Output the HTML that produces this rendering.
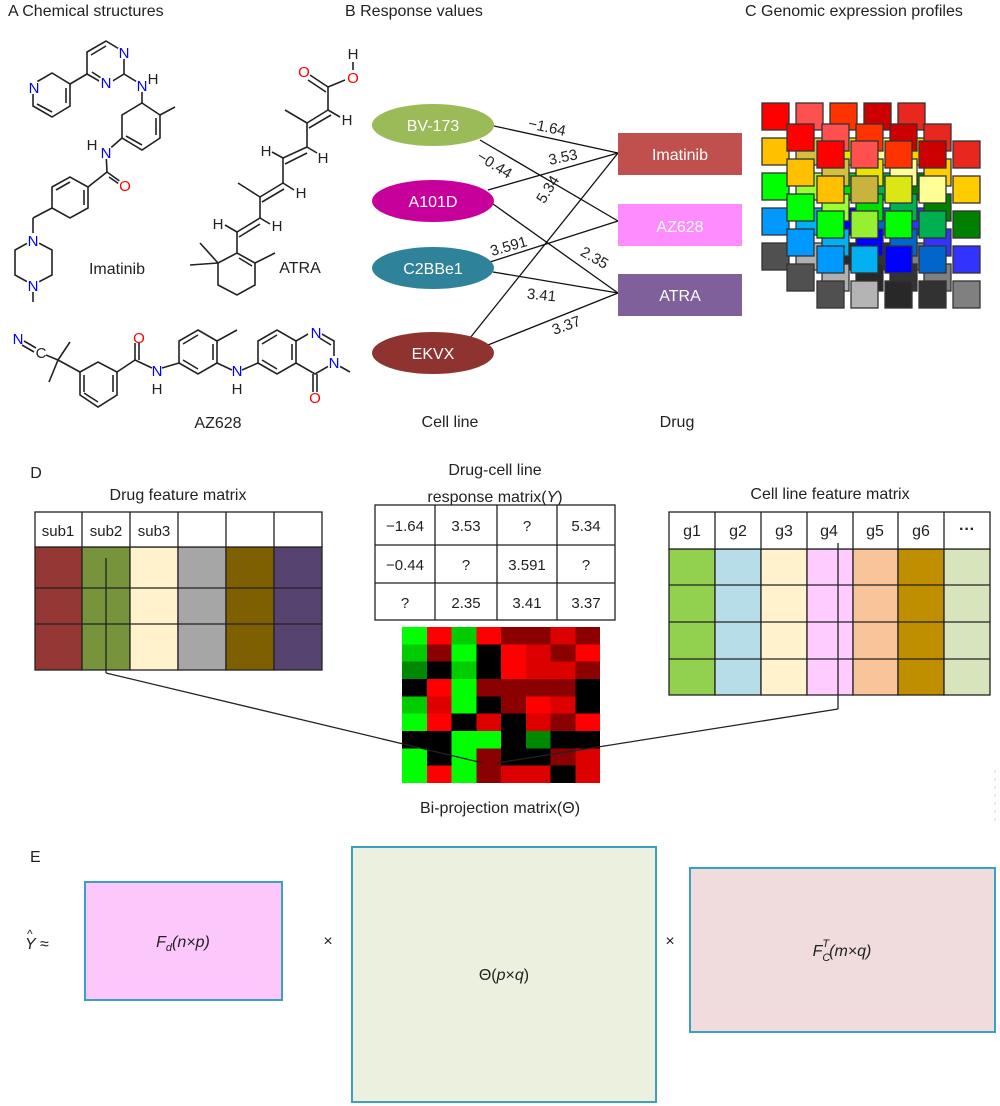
<!DOCTYPE html>
<html><head><meta charset="utf-8"><style>
html,body{margin:0;padding:0;background:#fff}
svg{display:block}
text{font-family:"Liberation Sans",sans-serif}
</style></head><body>
<svg width="1000" height="1106" viewBox="0 0 1000 1106" xmlns="http://www.w3.org/2000/svg">
<g font-size="16" fill="#222">
<text x="8" y="16">A  Chemical structures</text>
<text x="345" y="16">B  Response values</text>
<text x="745" y="16">C  Genomic expression profiles</text>
</g>

<!-- Imatinib -->
<g stroke="#222" stroke-width="1.6" fill="none">
<polygon points="87,52 106,41 124,52 124,74 106,85 87,74"/>
<line x1="91" y1="55" x2="106" y2="46"/><line x1="92" y1="72" x2="104" y2="80"/>
<polygon points="52,73 70,84 70,106 52,117 33,106 33,84"/>
<line x1="66" y1="88" x2="66" y2="103"/><line x1="37" y1="104" x2="52" y2="112"/>
<line x1="70" y1="84" x2="87" y2="74"/>
<line x1="124" y1="74" x2="142" y2="85"/>
<line x1="142" y1="85" x2="142" y2="103"/>
<polygon points="142,103 160,115 160,138 142,150 122,138 122,115"/>
<line x1="156" y1="118" x2="156" y2="135"/><line x1="126" y1="136" x2="142" y2="145"/>
<line x1="160" y1="115" x2="175" y2="107"/>
<line x1="122" y1="138" x2="106" y2="152"/>
<line x1="106" y1="152" x2="107" y2="172"/>
<line x1="107" y1="172" x2="125" y2="185"/><line x1="109" y1="177" x2="122" y2="186"/>
<line x1="107" y1="172" x2="88" y2="187"/>
<polygon points="52,187 70,177 88,187 88,208 70,218 52,208"/>
<line x1="56" y1="190" x2="70" y2="182"/><line x1="84" y1="190" x2="84" y2="205"/>
<line x1="52" y1="208" x2="33" y2="218"/><line x1="33" y1="218" x2="33" y2="240"/>
<polygon points="33,240 52,250 52,275 33,285 15,275 15,250"/>
<line x1="33" y1="285" x2="33" y2="302"/>
</g>
<g font-size="15" text-anchor="middle">
<g fill="#fff"><circle cx="124" cy="52" r="7"/><circle cx="106" cy="82" r="7"/><circle cx="33" cy="87" r="7"/><circle cx="142" cy="85" r="7"/><circle cx="106" cy="152" r="7"/><circle cx="125" cy="185" r="7"/><circle cx="33" cy="240" r="7"/><circle cx="33" cy="285" r="7"/></g>
<g fill="#00f"><text x="124" y="58">N</text><text x="106" y="88">N</text><text x="34" y="93">N</text><text x="142" y="91">N</text><text x="106" y="158">N</text><text x="33" y="246">N</text><text x="33" y="291">N</text></g>
<text x="125" y="191" fill="#f00">O</text>
<g fill="#222"><text x="153" y="84">H</text><text x="92" y="150">H</text></g>
<text x="117" y="274" font-size="16" fill="#222">Imatinib</text>
</g>

<!-- ATRA -->
<g stroke="#222" stroke-width="1.6" fill="none">
<polygon points="237,253 255,263 255,285 237,295 218,285 218,263"/>
<line x1="239" y1="258" x2="252" y2="266"/>
<line x1="218" y1="263" x2="190" y2="265"/><line x1="218" y1="263" x2="200" y2="243"/>
<line x1="255" y1="263" x2="275" y2="253"/>
<line x1="237" y1="253" x2="237" y2="232"/>
<line x1="237" y1="232" x2="260" y2="218"/><line x1="239" y1="237" x2="260" y2="224"/>
<line x1="260" y1="218" x2="260" y2="197"/><line x1="260" y1="197" x2="238" y2="183"/>
<line x1="260" y1="197" x2="283" y2="183"/><line x1="262" y1="202" x2="284" y2="189"/>
<line x1="283" y1="183" x2="283" y2="158"/>
<line x1="283" y1="158" x2="307" y2="147"/><line x1="285" y1="164" x2="307" y2="153"/>
<line x1="307" y1="147" x2="307" y2="123"/><line x1="307" y1="123" x2="285" y2="110"/>
<line x1="307" y1="123" x2="328" y2="110"/><line x1="309" y1="128" x2="331" y2="115"/>
<line x1="328" y1="110" x2="328" y2="87"/>
<line x1="328" y1="87" x2="310" y2="75"/><line x1="326" y1="92" x2="308" y2="80"/>
<line x1="328" y1="87" x2="345" y2="80"/>
<line x1="353" y1="70" x2="353" y2="62"/>
<line x1="237" y1="232" x2="225" y2="225"/><line x1="260" y1="218" x2="270" y2="224"/>
<line x1="283" y1="183" x2="294" y2="190"/><line x1="283" y1="158" x2="272" y2="152"/>
<line x1="307" y1="147" x2="317" y2="153"/><line x1="328" y1="110" x2="340" y2="117"/>
</g>
<g font-size="15" text-anchor="middle" fill="#222">
<text x="218" y="229">H</text><text x="277" y="231">H</text><text x="301" y="198">H</text><text x="266" y="156">H</text><text x="323" y="163">H</text><text x="347" y="125">H</text>
<text x="304" y="77" fill="#f00">O</text><text x="353" y="83" fill="#f00">O</text><text x="353" y="59">H</text>
<text x="300" y="273" font-size="16">ATRA</text>
</g>

<!-- AZ628 -->
<g stroke="#222" stroke-width="1.6" fill="none">
<line x1="24" y1="341" x2="36" y2="348"/><line x1="22" y1="345" x2="34" y2="352"/>
<line x1="46" y1="355" x2="58" y2="360"/>
<line x1="58" y1="360" x2="70" y2="342"/><line x1="58" y1="360" x2="49" y2="382"/>
<line x1="58" y1="360" x2="80" y2="372"/>
<polygon points="80,372 98,362 117,372 117,395 98,407 80,395"/>
<line x1="84" y1="393" x2="98" y2="402"/><line x1="113" y1="375" x2="113" y2="392"/><line x1="84" y1="375" x2="84" y2="392"/>
<line x1="117" y1="372" x2="135" y2="360"/>
<line x1="135" y1="360" x2="135" y2="343"/><line x1="139" y1="360" x2="139" y2="343"/>
<line x1="135" y1="360" x2="152" y2="368"/>
<line x1="162" y1="368" x2="179" y2="363"/>
<polygon points="198,330 217,341 217,363 198,374 179,363 179,341"/>
<line x1="183" y1="344" x2="198" y2="335"/><line x1="213" y1="344" x2="213" y2="360"/><line x1="183" y1="360" x2="198" y2="369"/>
<line x1="217" y1="341" x2="237" y2="330"/>
<line x1="217" y1="363" x2="232" y2="370"/>
<line x1="242" y1="370" x2="258" y2="363"/>
<polygon points="258,341 277,330 296,341 296,363 277,374 258,363"/>
<line x1="262" y1="344" x2="277" y2="335"/><line x1="262" y1="360" x2="277" y2="369"/><line x1="292" y1="344" x2="292" y2="360"/>
<polyline points="296,341 315,330 334,341 334,363 315,374 296,363"/>
<line x1="318" y1="337" x2="331" y2="345"/>
<line x1="313" y1="374" x2="313" y2="392"/><line x1="317" y1="374" x2="317" y2="392"/>
<line x1="334" y1="363" x2="350" y2="372"/>
</g>
<g font-size="15" text-anchor="middle">
<g fill="#fff"><circle cx="315" cy="333" r="7"/><circle cx="334" cy="363" r="7"/></g>
<g fill="#00f"><text x="18" y="344">N</text><text x="157" y="376">N</text><text x="237" y="376">N</text><text x="316" y="338">N</text><text x="334" y="368">N</text></g>
<text x="41" y="358" fill="#222">C</text>
<g fill="#f00"><text x="139" y="343">O</text><text x="315" y="403">O</text></g>
<g fill="#222"><text x="157" y="394">H</text><text x="237" y="394">H</text></g>
<text x="218" y="428" font-size="16" fill="#222">AZ628</text>
</g>

<!-- Panel B -->
<g stroke="#111" stroke-width="1.3">
<line x1="494" y1="126" x2="618" y2="153"/>
<line x1="480" y1="140" x2="618" y2="221"/>
<line x1="488" y1="190" x2="618" y2="153"/>
<line x1="493" y1="204" x2="618" y2="293"/>
<line x1="490" y1="262" x2="618" y2="221"/>
<line x1="493" y1="272" x2="618" y2="293"/>
<line x1="470" y1="338" x2="618" y2="153"/>
<line x1="488" y1="345" x2="618" y2="293"/>
</g>
<g font-size="16" text-anchor="middle" fill="#fff">
<ellipse cx="433" cy="125" rx="61" ry="21" fill="#9bbb59"/><text x="433" y="131">BV-173</text>
<ellipse cx="433" cy="201" rx="61" ry="21" fill="#c8009b"/><text x="433" y="207">A101D</text>
<ellipse cx="433" cy="268" rx="61" ry="21" fill="#2e8299"/><text x="433" y="274">C2BBe1</text>
<ellipse cx="433" cy="353" rx="61" ry="21" fill="#8e3330"/><text x="433" y="359">EKVX</text>
<rect x="618" y="133" width="124" height="42" fill="#c0504d"/><text x="680" y="160">Imatinib</text>
<rect x="618" y="204" width="124" height="42" fill="#ff8cff"/><text x="680" y="232">AZ628</text>
<rect x="618" y="274" width="124" height="42" fill="#7f609b"/><text x="680" y="301">ATRA</text>
</g>
<g font-size="15" text-anchor="middle" fill="#222">
<text transform="translate(546,132) rotate(12)">−1.64</text>
<text transform="translate(564,162) rotate(-12)">3.53</text>
<text transform="translate(492,169) rotate(32)">−0.44</text>
<text transform="translate(552,192) rotate(-58)">5.34</text>
<text transform="translate(510,251) rotate(-16)">3.591</text>
<text transform="translate(592,262) rotate(30)">2.35</text>
<text transform="translate(541,300) rotate(6)">3.41</text>
<text transform="translate(568,330) rotate(-20)">3.37</text>
<text x="450" y="427" font-size="16">Cell line</text>
<text x="677" y="427" font-size="16">Drug</text>
</g>

<!-- Panel C -->
<g stroke="#333" stroke-width="1.3">
<g transform="translate(762,103)">
<rect x="0" y="0" width="27" height="27" fill="#f00"/><rect x="34" y="0" width="27" height="27" fill="#ff5050"/><rect x="68" y="0" width="27" height="27" fill="#ff3300"/><rect x="102" y="0" width="27" height="27" fill="#c00"/><rect x="136" y="0" width="27" height="27" fill="#e8281e"/>
<rect x="0" y="35" width="27" height="27" fill="#ffc000"/><rect x="34" y="35" width="27" height="27" fill="#d4c040"/><rect x="68" y="35" width="27" height="27" fill="#e6e600"/><rect x="102" y="35" width="27" height="27" fill="#ffff99"/><rect x="136" y="35" width="27" height="27" fill="#fc0"/>
<rect x="0" y="70" width="27" height="27" fill="#0f0"/><rect x="34" y="70" width="27" height="27" fill="#9f3"/><rect x="68" y="70" width="27" height="27" fill="#0d0"/><rect x="102" y="70" width="27" height="27" fill="#00b050"/><rect x="136" y="70" width="27" height="27" fill="#008000"/>
<rect x="0" y="105" width="27" height="27" fill="#09f"/><rect x="34" y="105" width="27" height="27" fill="#00b0f0"/><rect x="68" y="105" width="27" height="27" fill="#00f"/><rect x="102" y="105" width="27" height="27" fill="#06c"/><rect x="136" y="105" width="27" height="27" fill="#33f"/>
<rect x="0" y="140" width="27" height="27" fill="#505050"/><rect x="34" y="140" width="27" height="27" fill="#b0b0b0"/><rect x="68" y="140" width="27" height="27" fill="#282828"/><rect x="102" y="140" width="27" height="27" fill="#333"/><rect x="136" y="140" width="27" height="27" fill="#808080"/>
</g>
<g transform="translate(787,124)">
<rect x="0" y="0" width="27" height="27" fill="#f00"/><rect x="35" y="0" width="27" height="27" fill="#ff5050"/><rect x="69" y="0" width="27" height="27" fill="#ff3300"/><rect x="103" y="0" width="27" height="27" fill="#c00"/><rect x="137" y="0" width="27" height="27" fill="#e8281e"/>
<rect x="0" y="35" width="27" height="27" fill="#ffc000"/><rect x="35" y="35" width="27" height="27" fill="#d4c040"/><rect x="69" y="35" width="27" height="27" fill="#e6e600"/><rect x="103" y="35" width="27" height="27" fill="#ffff99"/><rect x="137" y="35" width="27" height="27" fill="#fc0"/>
<rect x="0" y="70" width="27" height="27" fill="#0f0"/><rect x="35" y="70" width="27" height="27" fill="#9f3"/><rect x="69" y="70" width="27" height="27" fill="#0d0"/><rect x="103" y="70" width="27" height="27" fill="#00b050"/><rect x="137" y="70" width="27" height="27" fill="#008000"/>
<rect x="0" y="105" width="27" height="27" fill="#09f"/><rect x="35" y="105" width="27" height="27" fill="#00b0f0"/><rect x="69" y="105" width="27" height="27" fill="#00f"/><rect x="103" y="105" width="27" height="27" fill="#06c"/><rect x="137" y="105" width="27" height="27" fill="#33f"/>
<rect x="0" y="140" width="27" height="27" fill="#505050"/><rect x="35" y="140" width="27" height="27" fill="#b0b0b0"/><rect x="69" y="140" width="27" height="27" fill="#282828"/><rect x="103" y="140" width="27" height="27" fill="#333"/><rect x="137" y="140" width="27" height="27" fill="#808080"/>
</g>
<g transform="translate(817,141)">
<rect x="0" y="0" width="27" height="27" fill="#f00"/><rect x="34" y="0" width="27" height="27" fill="#ff5050"/><rect x="68" y="0" width="27" height="27" fill="#ff3300"/><rect x="102" y="0" width="27" height="27" fill="#c00"/><rect x="136" y="0" width="27" height="27" fill="#e8281e"/>
<rect x="0" y="35" width="27" height="27" fill="#ffc000"/><rect x="34" y="35" width="27" height="27" fill="#c8b43c"/><rect x="68" y="35" width="27" height="27" fill="#dce614"/><rect x="102" y="35" width="27" height="27" fill="#ffff96"/><rect x="136" y="35" width="27" height="27" fill="#fc0"/>
<rect x="0" y="70" width="27" height="27" fill="#0f0"/><rect x="34" y="70" width="27" height="27" fill="#96f032"/><rect x="68" y="70" width="27" height="27" fill="#0f0"/><rect x="102" y="70" width="27" height="27" fill="#00b050"/><rect x="136" y="70" width="27" height="27" fill="#008000"/>
<rect x="0" y="105" width="27" height="27" fill="#09f"/><rect x="34" y="105" width="27" height="27" fill="#00b0f0"/><rect x="68" y="105" width="27" height="27" fill="#00f"/><rect x="102" y="105" width="27" height="27" fill="#06c"/><rect x="136" y="105" width="27" height="27" fill="#33f"/>
<rect x="0" y="140" width="27" height="27" fill="#505050"/><rect x="34" y="140" width="27" height="27" fill="#b4b4b4"/><rect x="68" y="140" width="27" height="27" fill="#282828"/><rect x="102" y="140" width="27" height="27" fill="#323232"/><rect x="136" y="140" width="27" height="27" fill="#808080"/>
</g>
</g>

<!-- Panel D -->
<g font-size="16" fill="#222" text-anchor="middle">
<text x="36" y="478">D</text>
<text x="178" y="500">Drug feature matrix</text>
<text x="495" y="475">Drug-cell line</text>
<text x="495" y="502">response matrix(<tspan font-style="italic">Y</tspan>)</text>
<text x="830" y="499">Cell line feature matrix</text>
<text x="500" y="813">Bi-projection matrix(Θ)</text>
</g>
<g stroke="#222" stroke-width="1.3">
<rect x="35" y="547" width="47" height="123" fill="#953735"/>
<rect x="82" y="547" width="48" height="123" fill="#77933c"/>
<rect x="130" y="547" width="48" height="123" fill="#fff2cc"/>
<rect x="178" y="547" width="48" height="123" fill="#a6a6a6"/>
<rect x="226" y="547" width="48" height="123" fill="#7f6000"/>
<rect x="274" y="547" width="48" height="123" fill="#574370"/>
<rect x="35" y="512" width="287" height="35" fill="#fff"/>
<line x1="82" y1="512" x2="82" y2="547"/><line x1="130" y1="512" x2="130" y2="547"/><line x1="178" y1="512" x2="178" y2="547"/><line x1="226" y1="512" x2="226" y2="547"/><line x1="274" y1="512" x2="274" y2="547"/>
<line x1="35" y1="588" x2="322" y2="588"/><line x1="35" y1="624" x2="322" y2="624"/>
<line x1="106" y1="558" x2="106" y2="673"/>
</g>
<g font-size="15" fill="#222" text-anchor="middle"><text x="58" y="536">sub1</text><text x="106" y="536">sub2</text><text x="154" y="536">sub3</text></g>
<g stroke="#222" stroke-width="1.3" fill="none">
<rect x="375" y="505" width="240" height="115" fill="#fff"/>
<line x1="435" y1="505" x2="435" y2="620"/><line x1="497" y1="505" x2="497" y2="620"/><line x1="557" y1="505" x2="557" y2="620"/>
<line x1="375" y1="545" x2="615" y2="545"/><line x1="375" y1="583" x2="615" y2="583"/>
</g>
<g font-size="15" fill="#222" text-anchor="middle">
<text x="405" y="531">−1.64</text><text x="466" y="531">3.53</text><text x="527" y="531">?</text><text x="586" y="531">5.34</text>
<text x="405" y="570">−0.44</text><text x="466" y="570">?</text><text x="527" y="570">3.591</text><text x="586" y="570">?</text>
<text x="405" y="608">?</text><text x="466" y="608">2.35</text><text x="527" y="608">3.41</text><text x="586" y="608">3.37</text>
</g>
<g stroke="#222" stroke-width="1.3">
<rect x="669" y="549" width="46" height="146" fill="#92d050"/>
<rect x="715" y="549" width="46" height="146" fill="#b7dee8"/>
<rect x="761" y="549" width="46" height="146" fill="#fff2cc"/>
<rect x="807" y="549" width="46" height="146" fill="#ffccff"/>
<rect x="853" y="549" width="45" height="146" fill="#fac49a"/>
<rect x="898" y="549" width="46" height="146" fill="#bf8f00"/>
<rect x="944" y="549" width="46" height="146" fill="#d8e4bc"/>
<rect x="669" y="512" width="321" height="37" fill="#fff"/>
<line x1="715" y1="512" x2="715" y2="549"/><line x1="761" y1="512" x2="761" y2="549"/><line x1="807" y1="512" x2="807" y2="549"/><line x1="853" y1="512" x2="853" y2="549"/><line x1="898" y1="512" x2="898" y2="549"/><line x1="944" y1="512" x2="944" y2="549"/>
<line x1="669" y1="585" x2="990" y2="585"/><line x1="669" y1="622" x2="990" y2="622"/><line x1="669" y1="659" x2="990" y2="659"/>
<line x1="838" y1="543" x2="838" y2="709"/>
</g>
<g font-size="16" fill="#222" text-anchor="middle">
<text x="692" y="536">g1</text><text x="738" y="536">g2</text><text x="784" y="536">g3</text><text x="829" y="536">g4</text><text x="875" y="536">g5</text><text x="921" y="536">g6</text><text x="967" y="534" font-weight="bold">···</text>
</g>
<g transform="translate(402,627)" shape-rendering="crispEdges">
<g transform="scale(24.75,17.33)">
<rect x="0" y="0" width="1" height="1" fill="#0f0"/><rect x="1" y="0" width="1" height="1" fill="#f00"/><rect x="2" y="0" width="1" height="1" fill="#0c0"/><rect x="3" y="0" width="1" height="1" fill="#f00"/><rect x="4" y="0" width="1" height="1" fill="#8b0000"/><rect x="5" y="0" width="1" height="1" fill="#8b0000"/><rect x="6" y="0" width="1" height="1" fill="#d00"/><rect x="7" y="0" width="1" height="1" fill="#8b0000"/>
<rect x="0" y="1" width="1" height="1" fill="#0c0"/><rect x="1" y="1" width="1" height="1" fill="#8b0000"/><rect x="2" y="1" width="1" height="1" fill="#0f0"/><rect x="3" y="1" width="1" height="1" fill="#000"/><rect x="4" y="1" width="1" height="1" fill="#f00"/><rect x="5" y="1" width="1" height="1" fill="#d00"/><rect x="6" y="1" width="1" height="1" fill="#8b0000"/><rect x="7" y="1" width="1" height="1" fill="#f00"/>
<rect x="0" y="2" width="1" height="1" fill="#080"/><rect x="1" y="2" width="1" height="1" fill="#000"/><rect x="2" y="2" width="1" height="1" fill="#0c0"/><rect x="3" y="2" width="1" height="1" fill="#000"/><rect x="4" y="2" width="1" height="1" fill="#f00"/><rect x="5" y="2" width="1" height="1" fill="#d00"/><rect x="6" y="2" width="1" height="1" fill="#d00"/><rect x="7" y="2" width="1" height="1" fill="#8b0000"/>
<rect x="0" y="3" width="1" height="1" fill="#000"/><rect x="1" y="3" width="1" height="1" fill="#f00"/><rect x="2" y="3" width="1" height="1" fill="#0f0"/><rect x="3" y="3" width="1" height="1" fill="#8b0000"/><rect x="4" y="3" width="1" height="1" fill="#8b0000"/><rect x="5" y="3" width="1" height="1" fill="#8b0000"/><rect x="6" y="3" width="1" height="1" fill="#8b0000"/><rect x="7" y="3" width="1" height="1" fill="#000"/>
<rect x="0" y="4" width="1" height="1" fill="#0c0"/><rect x="1" y="4" width="1" height="1" fill="#d00"/><rect x="2" y="4" width="1" height="1" fill="#0f0"/><rect x="3" y="4" width="1" height="1" fill="#000"/><rect x="4" y="4" width="1" height="1" fill="#8b0000"/><rect x="5" y="4" width="1" height="1" fill="#f00"/><rect x="6" y="4" width="1" height="1" fill="#d00"/><rect x="7" y="4" width="1" height="1" fill="#000"/>
<rect x="0" y="5" width="1" height="1" fill="#0f0"/><rect x="1" y="5" width="1" height="1" fill="#f00"/><rect x="2" y="5" width="1" height="1" fill="#000"/><rect x="3" y="5" width="1" height="1" fill="#d00"/><rect x="4" y="5" width="1" height="1" fill="#000"/><rect x="5" y="5" width="1" height="1" fill="#d00"/><rect x="6" y="5" width="1" height="1" fill="#8b0000"/><rect x="7" y="5" width="1" height="1" fill="#f00"/>
<rect x="0" y="6" width="1" height="1" fill="#000"/><rect x="1" y="6" width="1" height="1" fill="#000"/><rect x="2" y="6" width="1" height="1" fill="#0f0"/><rect x="3" y="6" width="1" height="1" fill="#0f0"/><rect x="4" y="6" width="1" height="1" fill="#000"/><rect x="5" y="6" width="1" height="1" fill="#080"/><rect x="6" y="6" width="1" height="1" fill="#000"/><rect x="7" y="6" width="1" height="1" fill="#000"/>
<rect x="0" y="7" width="1" height="1" fill="#0f0"/><rect x="1" y="7" width="1" height="1" fill="#000"/><rect x="2" y="7" width="1" height="1" fill="#0f0"/><rect x="3" y="7" width="1" height="1" fill="#8b0000"/><rect x="4" y="7" width="1" height="1" fill="#000"/><rect x="5" y="7" width="1" height="1" fill="#000"/><rect x="6" y="7" width="1" height="1" fill="#8b0000"/><rect x="7" y="7" width="1" height="1" fill="#d00"/>
<rect x="0" y="8" width="1" height="1" fill="#0f0"/><rect x="1" y="8" width="1" height="1" fill="#f00"/><rect x="2" y="8" width="1" height="1" fill="#0f0"/><rect x="3" y="8" width="1" height="1" fill="#8b0000"/><rect x="4" y="8" width="1" height="1" fill="#d00"/><rect x="5" y="8" width="1" height="1" fill="#d00"/><rect x="6" y="8" width="1" height="1" fill="#000"/><rect x="7" y="8" width="1" height="1" fill="#d00"/>
</g></g>
<g stroke="#222" stroke-width="1.3" fill="none">
<polyline points="106,673 483,763"/>
<polyline points="838,709 497,763"/>
</g>

<!-- Panel E -->
<g font-size="16" fill="#222">
<text x="30" y="862">E</text>
<text x="25" y="949" font-style="italic">Y</text><text x="27" y="938" font-size="12">^</text><text x="40" y="949">≈</text>
<text x="328" y="946" text-anchor="middle">×</text>
<text x="670" y="946" text-anchor="middle">×</text>
</g>
<g stroke="#3aa0c4" stroke-width="2">
<rect x="85" y="882" width="197" height="118" fill="#fcc8fc"/>
<rect x="352" y="847" width="304" height="255" fill="#ebf0df"/>
<rect x="690" y="868" width="305" height="164" fill="#f0dcdc"/>
</g>
<g font-size="16" fill="#222" text-anchor="middle">
<text x="183" y="947" font-style="italic">F<tspan font-size="11" dy="4">d</tspan><tspan dy="-4">(n×p)</tspan></text>
<text x="504" y="980">Θ(<tspan font-style="italic">p</tspan>×<tspan font-style="italic">q</tspan>)</text>
<text x="842" y="956" font-style="italic">F<tspan font-size="11" dy="5">C</tspan><tspan font-size="11" dx="-8" dy="-14">T</tspan><tspan dy="9">(m×q)</tspan></text>
</g>
<g stroke="#cde8f0" stroke-width="1.5" stroke-dasharray="3,5"><line x1="995" y1="770" x2="995" y2="822"/></g>
</svg>
</body></html>
